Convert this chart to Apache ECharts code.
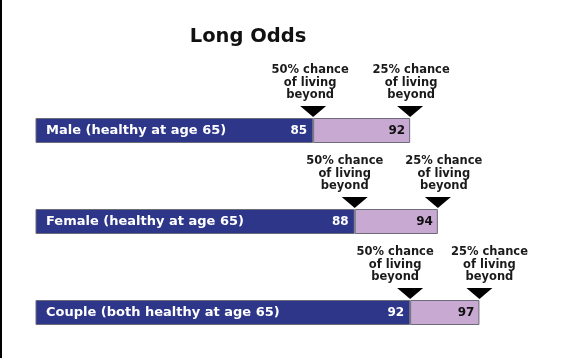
<!DOCTYPE html>
<html>
<head>
<meta charset="utf-8">
<script src="https://cdn.jsdelivr.net/npm/echarts@6/dist/echarts.min.js"></script>
<style>
html,body{margin:0;padding:0;background:#fff;}
#chart{width:565px;height:358px;}
</style>
</head>
<body>
<div id="chart"></div>
<script>
var categories = ['Male (healthy at age 65)', 'Female (healthy at age 65)', 'Couple (both healthy at age 65)'];
var median50 = [85, 88, 92];
var upper25 = [92, 94, 97];
var label50 = '50% chance\nof living\nbeyond';
var label25 = '25% chance\nof living\nbeyond';
var axisMin = 65;
var axisMax = 100;

var FONT = 'DejaVu Sans';
var chart = echarts.init(document.getElementById('chart'));

var diff = upper25.map(function (v, i) { return v - median50[i]; });

// horizontal nudges of the annotation texts so they don't collide (layout only)
var shift50 = [-3, -10, -15];
var shift25 = [1, 6, 10];

function markerSeries(name, values, text, shifts) {
  return {
    name: name,
    type: 'scatter',
    data: values.map(function (v, i) {
      return {
        value: [v, i],
        label: { offset: [shifts[i], -28.5] }
      };
    }),
    symbol: 'triangle',
    symbolRotate: 180,
    symbolSize: [26, 11],
    symbolOffset: [0, -19],
    itemStyle: { color: '#000', opacity: 1 },
    silent: true,
    z: 5,
    label: {
      show: true,
      position: 'inside',
      formatter: function () { return text; },
      color: '#1a1a1a',
      opacity: 1,
      fontFamily: FONT,
      fontWeight: 'bold',
      fontSize: 11.5,
      lineHeight: 12.5,
      align: 'center'
    }
  };
}

chart.setOption({
  animation: false,
  backgroundColor: '#fff',
  title: {
    text: 'Long Odds',
    left: 243,
    top: 22,
    textAlign: 'center',
    textStyle: { fontFamily: FONT, fontWeight: 'bold', fontSize: 19.5, color: '#111' }
  },
  graphic: [{
    type: 'rect', shape: { x: 0, y: 0, width: 2, height: 358 }, style: { fill: '#000' }
  }],
  grid: { left: 36, top: 85, width: 485, height: 274.5 },
  xAxis: {
    type: 'value', min: axisMin, max: axisMax,
    show: false
  },
  yAxis: {
    type: 'category', data: categories, inverse: true,
    axisLine: { show: false }, axisTick: { show: false }, splitLine: { show: false },
    axisLabel: {
      inside: true, margin: 10, color: '#fff',
      fontFamily: FONT, fontWeight: 'bold', fontSize: 13
    },
    z: 10
  },
  series: [
    {
      name: '50%', type: 'bar', stack: 'a', data: median50, barWidth: 25,
      itemStyle: { color: '#2d3689', borderColor: '#6b6b7a', borderWidth: 1 },
      label: {
        show: true, position: 'insideRight', distance: 6, color: '#fff',
        fontFamily: FONT, fontWeight: 'bold', fontSize: 12
      }
    },
    {
      name: '25%', type: 'bar', stack: 'a', data: diff, barWidth: 25,
      itemStyle: { color: '#c8a9d2', borderColor: '#6b6b7a', borderWidth: 1 },
      label: {
        show: true, position: 'insideRight', distance: 5, color: '#111',
        fontFamily: FONT, fontWeight: 'bold', fontSize: 12,
        formatter: function (p) { return upper25[p.dataIndex]; }
      }
    },
    markerSeries('m50', median50, label50, shift50),
    markerSeries('m25', upper25, label25, shift25)
  ]
});
</script>
</body>
</html>
